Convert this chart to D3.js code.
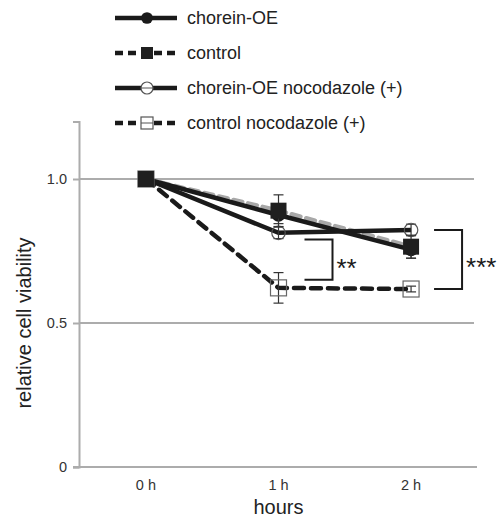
<!DOCTYPE html>
<html>
<head>
<meta charset="utf-8">
<script src="https://cdn.jsdelivr.net/npm/d3@7"></script>
<style>
  body { margin: 0; background: #fff; }
  text { font-family: "Liberation Sans", Arial, sans-serif; }
</style>
</head>
<body>
<svg id="chart"></svg>
<script>
// Chart size
const width = 499;
const height = 517;

// Categories and tick labels
const hours = ["0 h", "1 h", "2 h"];
const yTicks = [0, 0.5, 1.0];

// Series values
const choreinOE = [1.0, 0.875, 0.755];
const control = [1.0, 0.89, 0.765];
const choreinNoco = [1.0, 0.813, 0.823];
const controlNoco = [1.0, 0.622, 0.618];

// Error bars
const choreinOEErr = [0, 0.03, 0.03];
const controlErr = [0, 0.055, 0.04];
const choreinNocoErr = [0, 0.02, 0.02];
const controlNocoErr = [0, 0.053, 0.01];

// Significance brackets
const brackets = [
  { at: "1 h", top: 0.79, bottom: 0.65, label: "**" },
  { at: "2 h", top: 0.823, bottom: 0.618, label: "***" }
];

const series = [
  { name: "control", values: control, err: controlErr, line: "#a8a8a8", dash: "9,6", marker: "fsquare" },
  { name: "control nocodazole (+)", values: controlNoco, err: controlNocoErr, line: "#1a1a1a", dash: "10,7", marker: "osquare" },
  { name: "chorein-OE nocodazole (+)", values: choreinNoco, err: choreinNocoErr, line: "#1a1a1a", dash: null, marker: "ocircle" },
  { name: "chorein-OE", values: choreinOE, err: choreinOEErr, line: "#1a1a1a", dash: null, marker: "fcircle" }
];

const legendItems = [
  { name: "chorein-OE", dash: null, marker: "fcircle" },
  { name: "control", dash: "8,5", marker: "fsquare" },
  { name: "chorein-OE nocodazole (+)", dash: null, marker: "ocircle" },
  { name: "control nocodazole (+)", dash: "8,5", marker: "osquare" }
];

const svg = d3.select("#chart")
  .attr("width", width)
  .attr("height", height);

// Scales
const x = d3.scalePoint().domain(hours).range([77, 480]).padding(0.52);
const y = d3.scaleLinear().domain([0, 1.2]).range([467, 121.4]);

const gridColor = "#acacac";

// Grid lines at 0.5 and 1.0
svg.append("g")
  .selectAll("line")
  .data(yTicks.filter(d => d > 0))
  .enter().append("line")
  .attr("x1", 79).attr("x2", 474)
  .attr("y1", d => y(d)).attr("y2", d => y(d))
  .attr("stroke", gridColor)
  .attr("stroke-width", 2);

// Y axis
const yAxis = svg.append("g")
  .attr("transform", "translate(79,0)")
  .call(d3.axisLeft(y).tickValues(yTicks).tickSize(6).tickPadding(6)
    .tickFormat(d => d === 0 ? "0" : d3.format(".1f")(d)));
yAxis.select(".domain").attr("stroke", gridColor).attr("stroke-width", 2);
yAxis.selectAll(".tick line").attr("stroke", gridColor).attr("stroke-width", 2);
yAxis.selectAll(".tick text").attr("font-size", 14.5).attr("fill", "#333");

// X axis line
svg.append("line")
  .attr("x1", 73).attr("x2", 477)
  .attr("y1", y(0)).attr("y2", y(0))
  .attr("stroke", gridColor)
  .attr("stroke-width", 2);

// X tick labels
svg.append("g")
  .selectAll("text")
  .data(hours)
  .enter().append("text")
  .attr("x", d => x(d))
  .attr("y", 490)
  .attr("text-anchor", "middle")
  .attr("font-size", 14.5)
  .attr("fill", "#333")
  .text(d => d);

// Axis titles
svg.append("text")
  .attr("x", x("1 h"))
  .attr("y", 514)
  .attr("text-anchor", "middle")
  .attr("font-size", 20)
  .attr("fill", "#222")
  .text("hours");

svg.append("text")
  .attr("transform", "translate(31," + y(0.5) + ") rotate(-90)")
  .attr("text-anchor", "middle")
  .attr("font-size", 20)
  .attr("fill", "#222")
  .text("relative cell viability");

// Lines
const line = d3.line()
  .x((d, i) => x(hours[i]))
  .y(d => y(d));

svg.append("g")
  .selectAll("path")
  .data(series)
  .enter().append("path")
  .attr("d", d => line(d.values))
  .attr("fill", "none")
  .attr("stroke", d => d.line)
  .attr("stroke-width", 4.5)
  .attr("stroke-linecap", d => d.dash ? "round" : "butt")
  .attr("stroke-dasharray", d => d.dash);

// Markers
function drawMarker(g, type, cx, cy, size) {
  if (type === "fcircle") {
    g.append("circle").attr("cx", cx).attr("cy", cy).attr("r", size * 0.45)
      .attr("fill", "#1a1a1a");
  } else if (type === "ocircle") {
    g.append("circle").attr("cx", cx).attr("cy", cy).attr("r", size * 0.45)
      .attr("fill", "none").attr("stroke", "#555").attr("stroke-width", 1.2);
  } else if (type === "fsquare") {
    g.append("rect").attr("x", cx - size / 2).attr("y", cy - size / 2)
      .attr("width", size).attr("height", size).attr("fill", "#1f1f1f");
  } else if (type === "osquare") {
    g.append("rect").attr("x", cx - size / 2).attr("y", cy - size / 2)
      .attr("width", size).attr("height", size)
      .attr("fill", "none").attr("stroke", "#666").attr("stroke-width", 1.2);
  }
}

const markerOrder = ["chorein-OE", "chorein-OE nocodazole (+)", "control nocodazole (+)", "control"];
markerOrder.forEach(name => {
  const s = series.find(d => d.name === name);
  const g = svg.append("g");
  s.values.forEach((v, i) => {
    const cx = x(hours[i]);
    // error bar
    if (s.err[i] > 0) {
      g.append("line").attr("x1", cx).attr("x2", cx)
        .attr("y1", y(v + s.err[i])).attr("y2", y(v - s.err[i]))
        .attr("stroke", "#333").attr("stroke-width", 1.2);
      [v + s.err[i], v - s.err[i]].forEach(e => {
        g.append("line").attr("x1", cx - 5).attr("x2", cx + 5)
          .attr("y1", y(e)).attr("y2", y(e))
          .attr("stroke", "#333").attr("stroke-width", 1.2);
      });
    }
    drawMarker(g, s.marker, cx, y(v), s.marker.includes("square") ? 16 : 15);
  });
});

// Significance brackets
brackets.forEach(b => {
  const x0 = x(b.at) + (b.label === "**" ? 26 : 23);
  const x1 = x0 + 28;
  svg.append("path")
    .attr("d", "M" + x0 + "," + y(b.top) + "H" + x1 + "V" + y(b.bottom) + "H" + x0)
    .attr("fill", "none")
    .attr("stroke", "#1a1a1a")
    .attr("stroke-width", 2);
  svg.append("text")
    .attr("x", x1 + 4)
    .attr("y", (y(b.top) + y(b.bottom)) / 2 + 17)
    .attr("font-size", 26)
    .attr("fill", "#1a1a1a")
    .text(b.label);
});

// Legend
const legend = svg.append("g")
  .selectAll("g")
  .data(legendItems)
  .enter().append("g")
  .attr("transform", (d, i) => "translate(0," + (18 + i * 35) + ")");

legend.append("line")
  .attr("x1", 115).attr("x2", 177)
  .attr("y1", 0).attr("y2", 0)
  .attr("stroke", "#1a1a1a")
  .attr("stroke-width", 4.5)
  .attr("stroke-dasharray", d => d.dash);

legend.each(function (d) {
  const g = d3.select(this);
  if (d.marker === "ocircle" || d.marker === "osquare") {
    if (d.marker === "ocircle") {
      g.append("circle").attr("cx", 147).attr("cy", 0).attr("r", 6)
        .attr("fill", "#fff").attr("stroke", "#555").attr("stroke-width", 1.2);
    } else {
      g.append("rect").attr("x", 141).attr("y", -6).attr("width", 12).attr("height", 12)
        .attr("fill", "#fff").attr("stroke", "#555").attr("stroke-width", 1.2);
    }
    g.append("line").attr("x1", 141).attr("x2", 153).attr("y1", 0).attr("y2", 0)
      .attr("stroke", "#555").attr("stroke-width", 1);
  } else {
    drawMarker(g, d.marker, 147, 0, d.marker === "fsquare" ? 12 : 13);
  }
});

legend.append("text")
  .attr("x", 187)
  .attr("y", 6)
  .attr("font-size", 18)
  .attr("fill", "#222")
  .text(d => d.name);
</script>
</body>
</html>
